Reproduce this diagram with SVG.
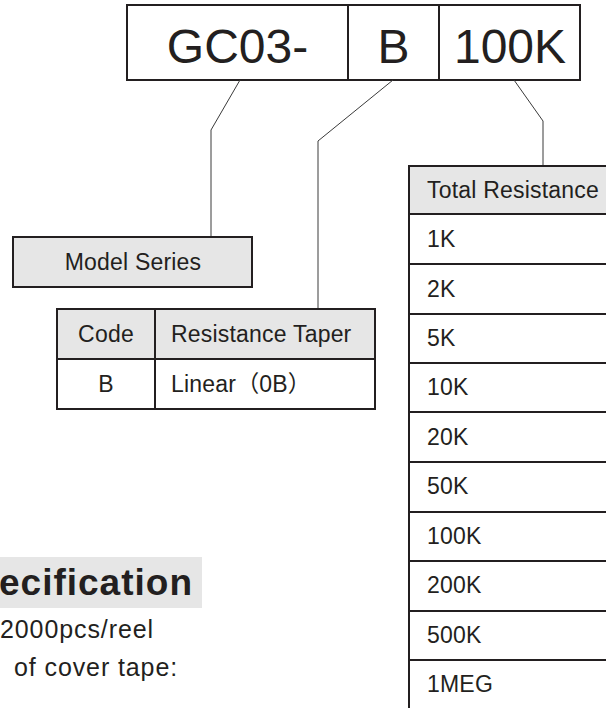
<svg xmlns="http://www.w3.org/2000/svg" width="606" height="708" viewBox="0 0 606 708">
<style>
.bx{fill:none;stroke:#231f20;stroke-width:2}
.gr{fill:#e6e6e6;stroke:#231f20;stroke-width:2}
.ln{stroke:#231f20;stroke-width:2;fill:none}
.cn{stroke:#3a3a3a;stroke-width:1;fill:none}
.big{font-family:"Liberation Sans",Arial,sans-serif;font-size:48px;fill:#231f20}
.t{font-family:"Liberation Sans","Noto Sans CJK SC",Arial,sans-serif;font-size:23px;fill:#231f20;letter-spacing:0.2px}
.hd{font-family:"Liberation Sans",Arial,sans-serif;font-size:37px;font-weight:bold;fill:#231f20;letter-spacing:1px}
.bt{font-family:"Liberation Sans",Arial,sans-serif;font-size:25px;fill:#231f20;letter-spacing:0.9px}
</style>
<rect width="606" height="708" fill="#ffffff"/>
<g id="part-number">
<rect class="bx" x="127" y="5" width="453" height="75"/>
<line class="ln" x1="348" y1="5" x2="348" y2="80"/>
<line class="ln" x1="439" y1="5" x2="439" y2="80"/>
<text class="big" x="237.5" y="63" text-anchor="middle">GC03-</text>
<text class="big" x="393.5" y="63" text-anchor="middle">B</text>
<text class="big" x="510" y="63" text-anchor="middle">100K</text>
</g>
<g id="connectors">
<polyline class="cn" points="240,80 211,130 211,237"/>
<polyline class="cn" points="393,80 318,141 318,309"/>
<polyline class="cn" points="514,80 543,121 543,166"/>
</g>
<g id="model-series">
<rect class="gr" x="13" y="237" width="239" height="50"/>
<text class="t" x="133" y="270" text-anchor="middle">Model Series</text>
</g>
<g id="taper-table">
<rect x="57" y="309" width="318" height="50" fill="#e6e6e6"/>
<rect class="bx" x="57" y="309" width="318" height="100"/>
<line class="ln" x1="57" y1="359" x2="375" y2="359"/>
<line class="ln" x1="155" y1="309" x2="155" y2="409"/>
<text class="t" x="106" y="342" text-anchor="middle">Code</text>
<text class="t" x="171" y="342">Resistance Taper</text>
<text class="t" x="106" y="392" text-anchor="middle">B</text>
<text class="t" x="171" y="392">Linear（0B）</text>
</g>
<g id="resistance-table">
<rect x="409" y="166" width="200" height="48" fill="#e6e6e6"/>
<line class="ln" x1="409" y1="165" x2="409" y2="710"/>
<line class="ln" x1="408" y1="166" x2="610" y2="166"/>
<line class="ln" x1="408" y1="214" x2="610" y2="214"/>
<line class="ln" x1="408" y1="264" x2="610" y2="264"/>
<line class="ln" x1="408" y1="314" x2="610" y2="314"/>
<line class="ln" x1="408" y1="363" x2="610" y2="363"/>
<line class="ln" x1="408" y1="412" x2="610" y2="412"/>
<line class="ln" x1="408" y1="462" x2="610" y2="462"/>
<line class="ln" x1="408" y1="512" x2="610" y2="512"/>
<line class="ln" x1="408" y1="561" x2="610" y2="561"/>
<line class="ln" x1="408" y1="611" x2="610" y2="611"/>
<line class="ln" x1="408" y1="660" x2="610" y2="660"/>
<text class="t" x="427" y="198">Total Resistance</text>
<text class="t" x="427" y="247">1K</text>
<text class="t" x="427" y="297">2K</text>
<text class="t" x="427" y="346">5K</text>
<text class="t" x="427" y="395">10K</text>
<text class="t" x="427" y="445">20K</text>
<text class="t" x="427" y="494">50K</text>
<text class="t" x="427" y="544">100K</text>
<text class="t" x="427" y="593">200K</text>
<text class="t" x="427" y="643">500K</text>
<text class="t" x="427" y="692">1MEG</text>
</g>
<g id="packing-spec">
<rect x="0" y="557" width="202" height="51" fill="#e6e6e6"/>
<text class="hd" x="-1" y="595">ecification</text>
<text class="bt" x="0" y="638">2000pcs/reel</text>
<text class="bt" x="14" y="676">of cover tape:</text>
</g>
</svg>
